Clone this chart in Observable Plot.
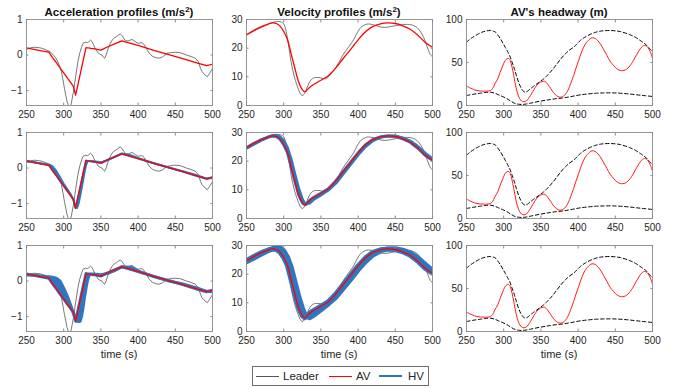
<!DOCTYPE html>
<html><head><meta charset="utf-8">
<script src="https://cdn.jsdelivr.net/npm/d3@7"></script>
<script src="https://cdn.jsdelivr.net/npm/@observablehq/plot@0.6"></script>
<style>
body{margin:0;background:#fff;}
#fig{position:relative;width:681px;height:388px;font-family:"Liberation Sans",Arial,Helvetica,sans-serif;color:#262626;background:#fff;overflow:hidden;}
.ttl{position:absolute;font-weight:bold;font-size:11.5px;text-align:center;width:220px;line-height:14px;color:#111;}
.ttl sup{font-size:8px;line-height:0;vertical-align:4px;}
.xl{position:absolute;font-size:11px;text-align:center;width:186px;line-height:13px;color:#262626;}
#legend{position:absolute;left:252px;top:366px;width:175px;height:18px;border:1px solid #6e6e6e;background:#fff;}
#legend span{position:absolute;top:2px;font-size:11.5px;line-height:14px;color:#262626;}
#legend i{position:absolute;top:9px;height:0;display:block;}
</style></head><body><div id="fig"></div>
<script>
// ---------- data ----------
const xTicks = [250, 300, 350, 400, 450, 500];
const accelTicks = [-1, 0, 1];
const velocityTicks = [0, 10, 20, 30];
const headwayTicks = [0, 50, 100];

const accTimes = [250,260,270,280,285,290,295,300,305,310,313,316,318,320,322,324,326,328,330,332,334,336,340,350,360,370,378,390,400,420,440,460,480,492,500];
const avAccel = [0.2,0.16,0.12,0.08,-0.07,-0.21,-0.36,-0.5,-0.65,-0.79,-0.88,-1.13,-0.94,-0.75,-0.56,-0.36,-0.17,0.02,0.21,0.2,0.2,0.19,0.18,0.14,0.24,0.33,0.4,0.33,0.27,0.14,0.02,-0.1,-0.23,-0.3,-0.26];
const hvAccelRow2 = [0.19,0.16,0.13,0.1,0.05,-0.08,-0.26,-0.44,-0.6,-0.76,-0.9,-1.1,-1.12,-1.0,-0.8,-0.58,-0.36,-0.12,0.08,0.18,0.2,0.2,0.19,0.16,0.23,0.33,0.41,0.36,0.28,0.14,0.02,-0.09,-0.21,-0.3,-0.28];
const hvAccelRow3 = [0.17,0.16,0.14,0.12,0.11,0.08,0.0,-0.2,-0.43,-0.72,-0.9,-1.08,-1.13,-1.14,-1.13,-1.0,-0.75,-0.45,-0.2,0.02,0.15,0.2,0.2,0.18,0.22,0.31,0.4,0.39,0.28,0.13,0.01,-0.08,-0.2,-0.29,-0.3];

const leaderAccel = [[250,0.16],[255,0.2],[260,0.22],[266,0.21],[271,0.19],[277,0.14],[282,0.09],[287,-0.02],[291,-0.14],[294,-0.28],[297,-0.47],[299,-0.7],[301,-0.94],[303,-1.15],[304.5,-1.31],[306,-1.4],[307.7,-1.45],[309.5,-1.42],[311,-1.27],[313,-1.05],[316,-0.61],[319,-0.2],[321.5,0.05],[324,0.22],[326,0.33],[329,0.36],[332,0.35],[334,0.38],[336,0.42],[338,0.38],[340,0.3],[342,0.2],[344,0.14],[346,0.06],[348,0.03],[351.5,0.0],[353,-0.05],[355,-0.09],[357,0.0],[359,0.14],[362,0.3],[365,0.42],[368,0.48],[371,0.52],[374,0.57],[376,0.59],[378,0.56],[380,0.5],[383,0.4],[387,0.4],[392,0.44],[396,0.38],[400,0.33],[405,0.35],[408,0.3],[411,0.19],[415,0.05],[419,-0.03],[423,-0.07],[428,-0.09],[433,-0.05],[439,0.05],[448,0.08],[456,0.07],[465,0.0],[471,-0.04],[477,-0.09],[481,-0.19],[484,-0.38],[486,-0.47],[490,-0.56],[493,-0.61],[496,-0.52],[500,-0.38]];

const velTimes = [250,260,270,280,285,290,295,300,305,310,315,320,325,328,330,335,340,350,360,370,380,390,400,410,420,430,440,450,460,470,480,490,500];
const avVelocity = [24.7,26.2,27.5,28.5,28.8,28.6,27.7,25.8,23.0,18.0,13.0,8.3,5.5,4.8,5.0,6.4,7.3,8.8,10.4,13.1,16.4,19.6,22.9,25.7,27.6,28.5,28.8,28.6,27.8,26.6,24.6,22.1,20.3];
const hvVelocityRow2 = [24.5,25.9,27.3,28.5,28.9,29.0,28.5,27.1,24.7,20.6,15.4,10.6,6.7,5.3,5.0,5.4,6.6,8.2,9.9,12.3,15.6,18.9,22.2,25.1,27.2,28.3,28.8,28.8,28.1,27.0,25.2,22.8,20.8];
const hvVelocityRow3 = [24.3,25.6,27.0,28.3,28.9,29.3,29.2,28.2,26.0,22.5,17.5,12.5,8.2,6.3,5.5,4.8,5.6,7.6,9.6,11.9,15.0,18.2,21.5,24.4,26.7,28.1,28.8,28.9,28.4,27.4,25.8,23.5,21.3];

const leaderVelocity = [[250,24.5],[260,26],[270,27.2],[280,28.5],[287,29.1],[293,29.3],[297,29.1],[300,28.5],[303,26.2],[305,23.5],[307,20.3],[310,15.1],[312,12.5],[314.4,9.9],[317,7.7],[319,6.2],[322.5,4.1],[324.7,3.5],[327,3.8],[329,4.6],[331.4,6.2],[334,7.8],[337,9.0],[341,9.7],[345,9.8],[349,9.7],[353,9.4],[356,9.3],[359,9.7],[362,10.5],[366,11.8],[370,13.2],[374,15.0],[378,16.9],[383,18.9],[387,20.3],[391,21.8],[394,22.9],[398,25.0],[401,26.3],[404,27.3],[408,28.0],[412,28.4],[416,28.4],[421,28.1],[427,27.6],[433,27.3],[439,27.3],[445,27.6],[452,27.9],[460,28.2],[466,28.3],[472,28.1],[477,27.6],[481,26.7],[485,25.3],[488,23.8],[491,21.8],[494.7,19.2],[497,17.8],[500,17.0]];

const avHeadway = [[250,22.5],[254,20.8],[257.6,19.4],[264,17.4],[273,16.7],[279,16.8],[282,17.4],[285,19.5],[288,25],[292,31],[295,38],[298,44.6],[302,52.3],[305,54.8],[307,54.5],[309,52],[311,45.5],[313.5,34.9],[317,19.4],[319.5,12],[321.6,7.8],[324,5.2],[327,4.3],[330.5,5.3],[333,7.8],[336,11.6],[339,16],[342.6,21.3],[346,25],[349.3,27.1],[353.8,28.3],[356,27.7],[358,26],[361,22.5],[365,17.4],[368,13.8],[370.8,11.6],[373,10.3],[376,9.7],[379,10.3],[381.5,11.6],[384.5,15],[387.3,19.4],[390,25.5],[394,34.9],[397,43],[400.7,52.3],[404,60.5],[407.4,67.8],[411,73],[414,75.9],[418.6,78.7],[423,78],[426,75.7],[429.8,71.7],[434,65.5],[438.8,58.1],[443,51.5],[447.7,46.5],[452,42.7],[456.6,40.7],[460,40.5],[463.4,41.3],[467,43.5],[470,46.5],[473.5,51],[476.8,56.2],[480,61],[483.5,65.9],[486.5,68.7],[489,69.8],[491.5,69.3],[494,67.2],[497,62.5],[500,55]];
const headwayUpper = [[250,73.6],[255,77.3],[260,80.2],[266,83.3],[271,85.3],[277,86.7],[282,87.2],[286,86.5],[289,85.3],[292,82],[295.6,77.5],[299,72.5],[302,67.8],[305,63],[308,58.1],[311,51],[314.4,42.6],[317,35],[320,27.1],[323,21],[326,17],[329,15.5],[332,16.6],[336,19.4],[340,22.2],[344.8,25.2],[349,28],[353.8,31],[358,34.5],[362.7,38.8],[367,43.2],[371.6,48.4],[377,54.5],[382.8,60],[388,64.2],[394,67.8],[398,71.2],[403,75.6],[409,79.3],[416,82.6],[423,85],[429.8,86.4],[436,87],[443,87.2],[450,86.8],[456.6,86],[463,84.4],[470,82.2],[477,79.3],[483.5,75.6],[488,72.9],[492.4,69.8],[496,66.2],[500,62.5]];
const headwayLower = [[250,11.6],[260,13.2],[268.8,14.3],[275,15.1],[282,15.5],[288,14.3],[293,12.4],[299,10.2],[304.6,7.8],[310,4.8],[315.7,2.2],[320,1.5],[324.7,1.2],[330,1.7],[336,2.7],[342,3.8],[349,5],[356,6],[362.7,7],[371,8],[380.6,8.9],[390,10.3],[403,12.4],[414,13.5],[425,14.3],[434,14.6],[443,14.7],[452,14.5],[461,14],[470,13.3],[479,12.4],[490,11.4],[500,10.5]];

// ---------- styles ----------
const RED = "#ff0000", GRAY = "#555555", BLUE = "#2f76c1", FRAME = "#8a8a8a";
const fig = document.getElementById("fig");
const colLeft = [26, 246, 466], rowTop = [19, 132, 245];
const W = 186, H = 86, ML = 28, MR = 6, MT = 4, MB = 17;

function zip(ts, vs) { return ts.map((t, i) => ({t, v: vs[i]})); }
function band(ts, a, b) { return ts.map((t, i) => ({t, a: a[i], b: b[i]})); }

function addPanel(c, r, yDomain, yTicks, marks) {
  const svg = Plot.plot({
    width: W + ML + MR, height: H + MT + MB,
    marginLeft: ML, marginRight: MR, marginTop: MT, marginBottom: MB,
    style: {background: "transparent", fontFamily: '"Liberation Sans", Arial, sans-serif', fontSize: "10px", color: "#262626", overflow: "visible"},
    x: {domain: [250, 500]},
    y: {domain: yDomain},
    marks: [
      ...marks,
      Plot.frame({stroke: FRAME, strokeWidth: 0.9}),
      Plot.axisX(xTicks, {anchor: "bottom", tickSize: 0, tickPadding: 5.5, label: null, fontSize: 10}),
      Plot.axisX(xTicks, {anchor: "bottom", tickSize: 2.5, dy: -2.5, tickFormat: () => "", label: null, stroke: FRAME}),
      Plot.axisX(xTicks, {anchor: "top", tickSize: 2.5, dy: 2.5, tickFormat: () => "", label: null, stroke: FRAME}),
      Plot.axisY(yTicks, {anchor: "left", tickSize: 0, tickPadding: 4, label: null, fontSize: 10}),
      Plot.axisY(yTicks, {anchor: "left", tickSize: 2.5, dx: 2.5, tickFormat: () => "", label: null, stroke: FRAME}),
      Plot.axisY(yTicks, {anchor: "right", tickSize: 2.5, dx: -2.5, tickFormat: () => "", label: null, stroke: FRAME})
    ]
  });
  svg.style.position = "absolute";
  svg.style.left = (colLeft[c] - ML) + "px";
  svg.style.top = (rowTop[r] - MT) + "px";
  fig.appendChild(svg);
}

function hvMarks(ts, a, b, w) {
  const d = band(ts, a, b);
  return [
    Plot.areaY(d, {x: "t", y1: "a", y2: "b", fill: BLUE, clip: true}),
    Plot.line(d, {x: "t", y: "a", stroke: BLUE, strokeWidth: w, strokeLinejoin: "round", clip: true}),
    Plot.line(d, {x: "t", y: "b", stroke: BLUE, strokeWidth: w, strokeLinejoin: "round", clip: true})
  ];
}

const accDomain = [-1.42, 1];
const leaderAccLine = Plot.line(leaderAccel, {x: d => d[0], y: d => d[1], stroke: GRAY, strokeWidth: 0.8, clip: true});
const avAccLine = Plot.line(zip(accTimes, avAccel), {x: "t", y: "v", stroke: RED, strokeWidth: 1.3, clip: true});
const leaderVelLine = Plot.line(leaderVelocity, {x: d => d[0], y: d => d[1], stroke: GRAY, strokeWidth: 0.8, curve: "catmull-rom", clip: true});
const avVelLine = Plot.line(zip(velTimes, avVelocity), {x: "t", y: "v", stroke: RED, strokeWidth: 1.3, curve: "catmull-rom", clip: true});
const headwayMarks = [
  Plot.line(headwayUpper, {x: d => d[0], y: d => d[1], stroke: "#000", strokeWidth: 1, strokeDasharray: "3.5,2.5", curve: "catmull-rom", clip: true}),
  Plot.line(headwayLower, {x: d => d[0], y: d => d[1], stroke: "#000", strokeWidth: 1, strokeDasharray: "3.5,2.5", curve: "catmull-rom", clip: true}),
  Plot.line(avHeadway, {x: d => d[0], y: d => d[1], stroke: RED, strokeWidth: 0.9, curve: "catmull-rom", clip: true})
];

// row 1
addPanel(0, 0, accDomain, accelTicks, [leaderAccLine, avAccLine]);
addPanel(1, 0, [0, 30], velocityTicks, [leaderVelLine, avVelLine]);
addPanel(2, 0, [0, 100], headwayTicks, headwayMarks);
// row 2
addPanel(0, 1, accDomain, accelTicks, [leaderAccLine, ...hvMarks(accTimes, avAccel, hvAccelRow2, 2), avAccLine]);
addPanel(1, 1, [0, 30], velocityTicks, [leaderVelLine, ...hvMarks(velTimes, avVelocity, hvVelocityRow2, 3), avVelLine]);
addPanel(2, 1, [0, 100], headwayTicks, headwayMarks);
// row 3
addPanel(0, 2, accDomain, accelTicks, [leaderAccLine, ...hvMarks(accTimes, avAccel, hvAccelRow3, 3), avAccLine]);
addPanel(1, 2, [0, 30], velocityTicks, [leaderVelLine, ...hvMarks(velTimes, avVelocity, hvVelocityRow3, 5), avVelLine]);
addPanel(2, 2, [0, 100], headwayTicks, headwayMarks);

// titles and labels
const titles = ["Acceleration profiles (m/s<sup>2</sup>)", "Velocity profiles (m/s<sup>2</sup>)", "AV's headway (m)"];
titles.forEach((t, c) => {
  const d = document.createElement("div");
  d.className = "ttl"; d.innerHTML = t;
  d.style.left = (colLeft[c] + W / 2 - 110) + "px"; d.style.top = "5px";
  fig.appendChild(d);
});
[0, 1, 2].forEach(c => {
  const d = document.createElement("div");
  d.className = "xl"; d.textContent = "time (s)";
  d.style.left = colLeft[c] + "px"; d.style.top = "348px";
  fig.appendChild(d);
});
const lg = document.createElement("div");
lg.id = "legend";
lg.innerHTML =
  '<i style="left:3px;width:23px;border-top:1px solid ' + GRAY + '"></i><span style="left:30px">Leader</span>' +
  '<i style="left:76px;width:23px;border-top:1.3px solid ' + RED + '"></i><span style="left:103px">AV</span>' +
  '<i style="left:126px;width:23px;top:8px;border-top:2px solid ' + BLUE + '"></i><span style="left:155px">HV</span>';
fig.appendChild(lg);
</script>
</body></html>
